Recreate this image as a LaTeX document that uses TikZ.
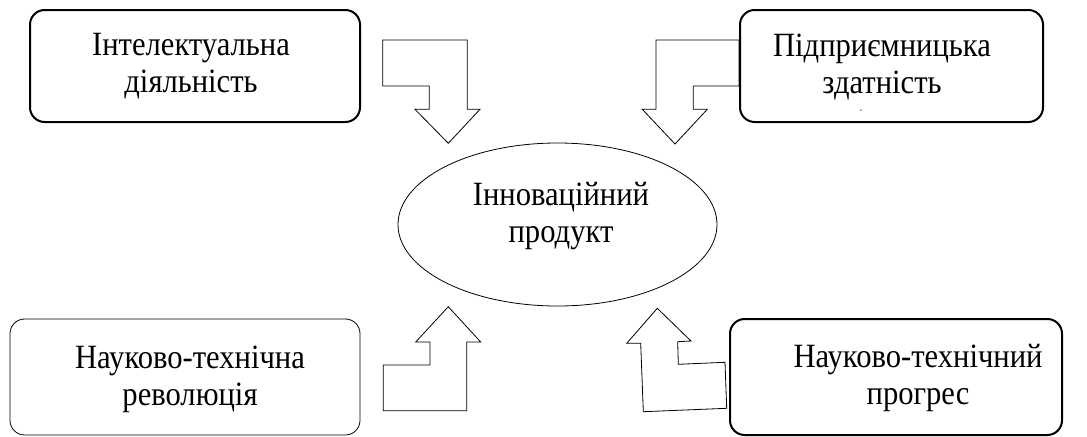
\documentclass[tikz,border=0pt]{standalone}
\usepackage{fontspec}
\setmainfont{Liberation Serif}
\newfontfamily\tallserif[FakeStretch=0.9]{Liberation Serif}
\usetikzlibrary{shapes.geometric}
\tikzset{
  box/.style={draw, rounded corners=11pt, inner sep=0pt},
  thickbox/.style={box, line width=1.5pt},
  thinbox/.style={box, line width=0.6pt},
  txt/.style={align=center, inner sep=0pt, anchor=base, font=\tallserif\fontsize{25.5}{27.75}\selectfont},
  blockarrow/.style={draw, line width=0.6pt, line join=miter}
}
\begin{document}
\begin{tikzpicture}[x=0.75pt, y=-0.75pt]
\useasboundingbox (0,0) rectangle (1087,436);
% boxes
\node[thickbox, minimum width=247.5pt, minimum height=84pt] (b1) at (195,66) {};
\node[thickbox, minimum width=227.25pt, minimum height=84pt] (b2) at (891.5,66) {};
\node[thinbox, minimum width=262.5pt, minimum height=87pt] (b3) at (185,377) {};
\node[thickbox, minimum width=249pt, minimum height=87pt] (b4) at (896,377) {};
% texts (anchored at the baseline of the last line)
\node[txt] (t1) at (191,92) {Інтелектуальна\\діяльність};
\node[txt] (t2) at (882,93) {Підприємницька\\здатність};
\node[font=\fontsize{6}{6}\selectfont, inner sep=0pt] (dash) at (861,111) {-};
\node[txt] (t3) at (190,405) {Науково-технічна\\революція};
\node[txt] (t4) at (918,404) {Науково-технічний\\прогрес};
% ellipse
\node[draw, ellipse, line width=0.6pt, minimum width=239.25pt, minimum height=122.25pt, inner sep=0pt] (e) at (557.5,224.5) {};
\node[txt] (te) at (561,242) {Інноваційний\\продукт};
% block arrows
\draw[blockarrow] (382.7,40) -- (467.3,40) -- (467.3,109.3) -- (480,109.3) -- (448.3,143.3) -- (415,109.3) -- (429.3,109.3) -- (429.3,86) -- (382.7,86) -- cycle;
\draw[blockarrow] (656,40) -- (739,40) -- (739,86) -- (693.3,86) -- (693.3,109.3) -- (707.3,109.3) -- (675,144) -- (642.3,109.3) -- (656,109.3) -- cycle;
\draw[blockarrow] (448.3,306.7) -- (480.7,342) -- (466.7,342) -- (466.7,410.7) -- (383.3,410.7) -- (383.3,365) -- (430,365) -- (430,342) -- (415.7,342) -- cycle;
\draw[blockarrow] (657.3,308.3) -- (691,341) -- (677.7,341.7) -- (678.3,364.3) -- (725,362.3) -- (726.7,408.3) -- (643.3,411.7) -- (640.7,343.3) -- (626.7,343.3) -- cycle;
\end{tikzpicture}
\end{document}
